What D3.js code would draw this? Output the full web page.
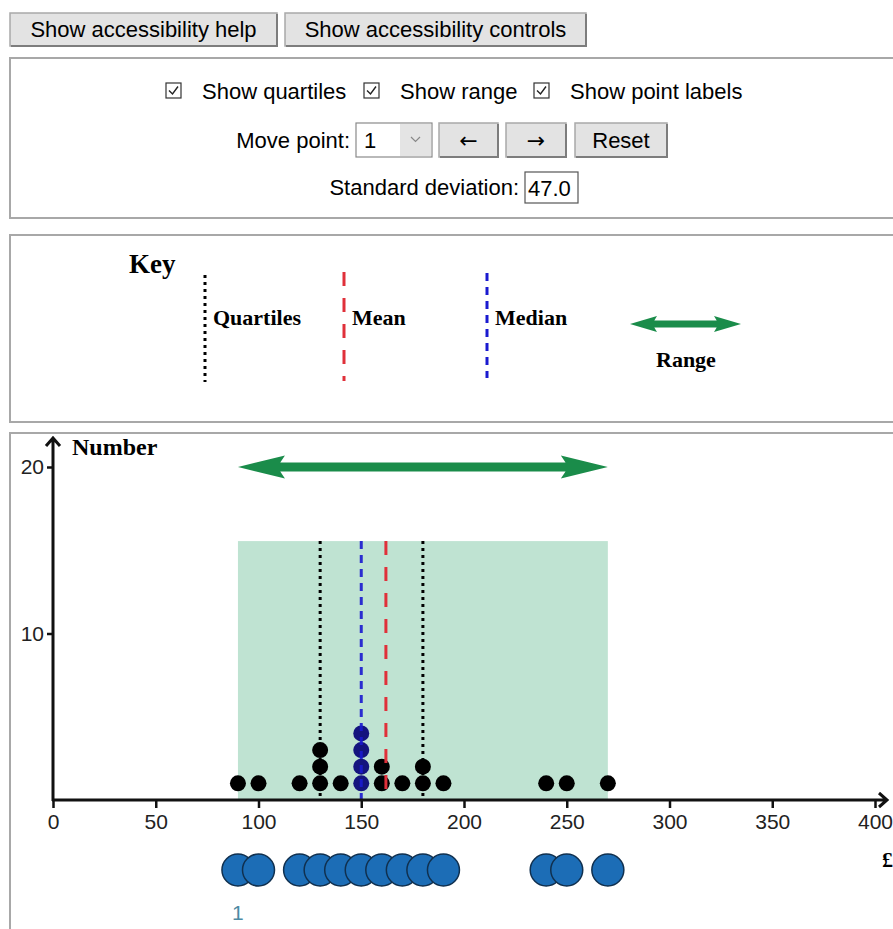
<!DOCTYPE html>
<html>
<head>
<meta charset="utf-8">
<script src="https://cdn.jsdelivr.net/npm/d3@7"></script>
<style>
  body { margin: 0; background: #fff; }
  svg text { font-family: "Liberation Sans", Arial, sans-serif; }
  .serif { font-family: "Liberation Serif", "Times New Roman", serif; font-weight: bold; }
</style>
</head>
<body>
<div id="chart"></div>
<script>
// data
var values = [90, 100, 120, 130, 140, 150, 160, 170, 180, 190, 240, 250, 270];
var counts = [1, 1, 1, 3, 1, 4, 2, 1, 2, 1, 1, 1, 1];
var xTicks = [0, 50, 100, 150, 200, 250, 300, 350, 400];
var yTicks = [10, 20];
var checkLabels = ["Show quartiles", "Show range", "Show point labels"];
var keyLabels = ["Quartiles", "Mean", "Median", "Range"];
var selectedPoint = 1;

// every single observation
var all = [];
values.forEach(function(v, i) {
    for (var k = 1; k <= counts[i]; k++) all.push({ value: v, level: k });
});
var sorted = all.map(function(d) { return d.value; }).sort(d3.ascending);
var mean = d3.mean(sorted);
var median = d3.median(sorted);
var q1 = d3.quantile(sorted, 0.25);
var q3 = d3.quantile(sorted, 0.75);
var sd = d3.deviation(sorted);
var minV = d3.min(sorted), maxV = d3.max(sorted);

var svg = d3.select('#chart')
    .append('svg')
    .attr('width', 893)
    .attr('height', 929);

function button(x, y, w, h, label, font) {
    var g = svg.append('g');
    g.append('rect').attr('x', x).attr('y', y).attr('width', w).attr('height', h)
        .attr('fill', '#e3e3e3').attr('stroke', '#a9a9a9').attr('stroke-width', 1.5);
    g.append('path')
        .attr('d', 'M' + (x + 1) + ',' + (y + h) + 'H' + (x + w) + 'V' + (y + 1))
        .attr('fill', 'none').attr('stroke', '#7d7d7d').attr('stroke-width', 2);
    g.append('text').attr('x', x + w / 2).attr('y', y + h / 2).attr('dy', '0.36em')
        .attr('text-anchor', 'middle').attr('font-size', 22)
        .style('font-family', font || null).text(label);
}

function panel(y, h) {
    svg.append('rect').attr('x', 10).attr('y', y).attr('width', 900).attr('height', h)
        .attr('fill', '#fff').attr('stroke', '#a8a8a8').attr('stroke-width', 2);
}

function doubleArrow(g, x1, x2, y, hl, hh, sh, color) {
    var p = 'M' + x1 + ',' + y +
        'L' + (x1 + hl) + ',' + (y - hh) + 'L' + (x1 + hl * 0.9) + ',' + (y - sh) +
        'L' + (x2 - hl * 0.9) + ',' + (y - sh) + 'L' + (x2 - hl) + ',' + (y - hh) +
        'L' + x2 + ',' + y +
        'L' + (x2 - hl) + ',' + (y + hh) + 'L' + (x2 - hl * 0.9) + ',' + (y + sh) +
        'L' + (x1 + hl * 0.9) + ',' + (y + sh) + 'L' + (x1 + hl) + ',' + (y + hh) + 'Z';
    g.append('path').attr('d', p).attr('fill', color);
}

// ---- top buttons
button(10, 13, 267, 33, 'Show accessibility help');
button(285, 13, 301, 33, 'Show accessibility controls');

// ---- controls panel
panel(58, 160);
var checkX = [166, 364, 534];
checkLabels.forEach(function(lbl, i) {
    var cx = checkX[i];
    svg.append('rect').attr('x', cx).attr('y', 83).attr('width', 15).attr('height', 15)
        .attr('fill', '#fff').attr('stroke', '#333').attr('stroke-width', 1.2);
    svg.append('path').attr('d', 'M' + (cx + 3) + ',90.5L' + (cx + 6.5) + ',94L' + (cx + 12) + ',86.5')
        .attr('fill', 'none').attr('stroke', '#222').attr('stroke-width', 1.4);
    svg.append('text').attr('x', cx + 36).attr('y', 91).attr('dy', '0.36em')
        .attr('font-size', 22).text(lbl);
});

svg.append('text').attr('x', 350).attr('y', 140).attr('dy', '0.36em')
    .attr('text-anchor', 'end').attr('font-size', 22).text('Move point:');
svg.append('rect').attr('x', 356).attr('y', 123).attr('width', 76).attr('height', 34)
    .attr('fill', '#fff').attr('stroke', '#8a8a8a').attr('stroke-width', 1.2);
svg.append('rect').attr('x', 400).attr('y', 124).attr('width', 31).attr('height', 32)
    .attr('fill', '#e4e4e4');
svg.append('path').attr('d', 'M411,137L415.5,141.5L420,137')
    .attr('fill', 'none').attr('stroke', '#888').attr('stroke-width', 1.2);
svg.append('text').attr('x', 364).attr('y', 140).attr('dy', '0.36em')
    .attr('font-size', 22).text(String(selectedPoint));
button(439, 123, 59, 34, '←', '"DejaVu Sans"');
button(506, 123, 60, 34, '→', '"DejaVu Sans"');
button(575, 123, 92, 34, 'Reset');

svg.append('text').attr('x', 519).attr('y', 187).attr('dy', '0.36em')
    .attr('text-anchor', 'end').attr('font-size', 22).text('Standard deviation:');
svg.append('rect').attr('x', 525).attr('y', 172).attr('width', 53).attr('height', 31)
    .attr('fill', '#fff').attr('stroke', '#555').attr('stroke-width', 1.2);
svg.append('text').attr('x', 528).attr('y', 188).attr('dy', '0.36em')
    .attr('font-size', 22).text(sd.toFixed(1));

// ---- key panel
panel(235, 187);
var key = svg.append('g');
key.append('text').attr('class', 'serif').attr('x', 129).attr('y', 273)
    .attr('font-size', 27).text('Key');
key.append('line').attr('x1', 205).attr('x2', 205).attr('y1', 275).attr('y2', 382)
    .attr('stroke', '#000').attr('stroke-width', 3).attr('stroke-dasharray', '3,4');
key.append('line').attr('x1', 344).attr('x2', 344).attr('y1', 272).attr('y2', 381)
    .attr('stroke', '#e0303a').attr('stroke-width', 3).attr('stroke-dasharray', '14,12');
key.append('line').attr('x1', 487).attr('x2', 487).attr('y1', 273).attr('y2', 378)
    .attr('stroke', '#1a1ad0').attr('stroke-width', 3).attr('stroke-dasharray', '8,6');
key.append('text').attr('class', 'serif').attr('x', 213).attr('y', 325)
    .attr('font-size', 22).text(keyLabels[0]);
key.append('text').attr('class', 'serif').attr('x', 352).attr('y', 325)
    .attr('font-size', 22).text(keyLabels[1]);
key.append('text').attr('class', 'serif').attr('x', 495).attr('y', 325)
    .attr('font-size', 22).text(keyLabels[2]);
doubleArrow(key, 630, 741, 324, 27, 8, 3.5, '#1a8c4a');
key.append('text').attr('class', 'serif').attr('x', 656).attr('y', 367)
    .attr('font-size', 22).text(keyLabels[3]);

// ---- chart panel
panel(433, 520);

var xScale = d3.scaleLinear().domain([0, 400]).range([53, 875]);
var yScale = d3.scaleLinear().domain([0, 20]).range([800, 467]);
var rangeTop = 15.55;

var plot = svg.append('g');

// range band and arrow
plot.append('rect')
    .attr('x', xScale(minV)).attr('y', yScale(rangeTop))
    .attr('width', xScale(maxV) - xScale(minV))
    .attr('height', yScale(0) - yScale(rangeTop))
    .attr('fill', '#bfe3d2');
doubleArrow(plot, xScale(minV), xScale(maxV), yScale(20), 47, 11.5, 4.5, '#1a8c4a');

// dots
plot.selectAll('circle.dot')
    .data(all)
    .enter().append('circle')
    .attr('class', 'dot')
    .attr('cx', function(d) { return xScale(d.value); })
    .attr('cy', function(d) { return yScale(d.level); })
    .attr('r', 8)
    .attr('fill', function(d) { return d.value === median ? '#14147e' : '#000'; });

// statistic lines
[q1, q3].forEach(function(q) {
    plot.append('line').attr('x1', xScale(q)).attr('x2', xScale(q))
        .attr('y1', yScale(rangeTop)).attr('y2', yScale(0))
        .attr('stroke', '#000').attr('stroke-width', 3).attr('stroke-dasharray', '3,4');
});
plot.append('line').attr('x1', xScale(median)).attr('x2', xScale(median))
    .attr('y1', yScale(rangeTop)).attr('y2', yScale(0))
    .attr('stroke', '#1a1ad0').attr('stroke-width', 3).attr('stroke-dasharray', '8,6').attr('opacity', 0.9);
plot.append('line').attr('x1', xScale(mean)).attr('x2', xScale(mean))
    .attr('y1', yScale(rangeTop)).attr('y2', yScale(0))
    .attr('stroke', '#e0303a').attr('stroke-width', 3).attr('stroke-dasharray', '14,12');

// axes
var xAxis = d3.axisBottom(xScale).tickValues(xTicks).tickSize(8).tickPadding(6);
var yAxis = d3.axisLeft(yScale).tickValues(yTicks).tickSize(6).tickPadding(3);

svg.append('g').attr('class', 'x axis')
    .attr('transform', 'translate(0,' + yScale(0) + ')')
    .call(xAxis)
    .call(function(g) { g.select('.domain').remove(); });
svg.append('g').attr('class', 'y axis')
    .attr('transform', 'translate(' + xScale(0) + ',0)')
    .call(yAxis)
    .call(function(g) { g.select('.domain').remove(); });
svg.selectAll('.axis line').attr('stroke', '#111').attr('stroke-width', 2.5);
svg.selectAll('.axis text').attr('font-size', 21).attr('fill', '#222')
    .attr('font-family', '"Liberation Sans", Arial, sans-serif');

var x0 = xScale(0), y0 = yScale(0);
svg.append('path')
    .attr('d', 'M' + x0 + ',' + (y0 + 1) + 'V438M' + (x0 - 7) + ',446L' + x0 + ',438L' + (x0 + 7) + ',446')
    .attr('fill', 'none').attr('stroke', '#111').attr('stroke-width', 3);
svg.append('path')
    .attr('d', 'M' + (x0 - 1) + ',' + y0 + 'H887M879,' + (y0 - 7) + 'L887,' + y0 + 'L879,' + (y0 + 7))
    .attr('fill', 'none').attr('stroke', '#111').attr('stroke-width', 3);
svg.append('text').attr('class', 'serif').attr('x', 72).attr('y', 455)
    .attr('font-size', 24).text('Number');
svg.append('text').attr('class', 'serif').attr('x', 882).attr('y', 867)
    .attr('font-size', 22).text('£');

// draggable point handles, one per distinct value
var handles = svg.append('g');
handles.selectAll('circle')
    .data(values)
    .enter().append('circle')
    .attr('cx', function(d) { return xScale(d); })
    .attr('cy', 870)
    .attr('r', 16)
    .attr('fill', '#1c6db6')
    .attr('stroke', '#10304f')
    .attr('stroke-width', 1.5);
svg.append('text').attr('x', xScale(values[selectedPoint - 1])).attr('y', 912)
    .attr('dy', '0.36em').attr('text-anchor', 'middle')
    .attr('font-size', 21).attr('fill', '#4d8aa3').text(String(selectedPoint));
</script>
</body>
</html>
